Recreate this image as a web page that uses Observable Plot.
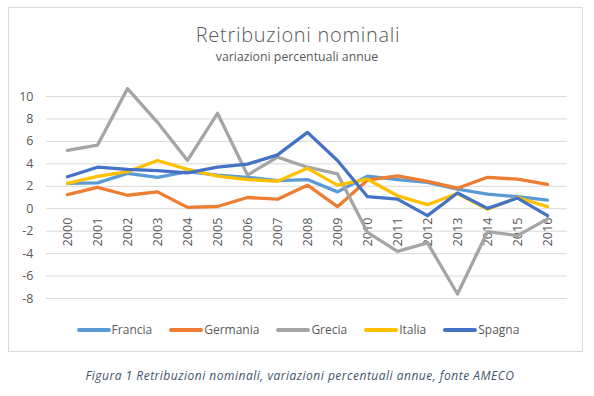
<!DOCTYPE html>
<html>
<head>
<meta charset="utf-8">
<script src="https://cdn.jsdelivr.net/npm/d3@7"></script>
<script src="https://cdn.jsdelivr.net/npm/@observablehq/plot@0.6"></script>
<style>
  body { margin: 0; background: #fff; }
  #wrap { position: relative; width: 594px; height: 396px; font-family: "Open Sans", sans-serif; color: #595959; overflow: hidden; }
  #frame { position: absolute; left: 8px; top: 7px; width: 575px; height: 345px; border: 1px solid #d9d9d9; box-sizing: border-box; }
  #title { position: absolute; left: 0; width: 596px; top: 23px; text-align: center; font-size: 20px; letter-spacing: 0.7px; font-weight: 300; color: #595959; line-height: 1.2; }
  #subtitle { position: absolute; left: 0; width: 594px; top: 50px; text-align: center; font-size: 12.3px; color: #595959; line-height: 1.2; }
  #chart { position: absolute; left: 0; top: 0; }
  #legend { position: absolute; left: 0; width: 596px; top: 322px; display: flex; justify-content: center; gap: 17px; font-size: 12px; color: #595959; line-height: 16px; }
  #legend .item { display: flex; align-items: center; }
  #legend .sw { width: 34px; height: 3.5px; margin-right: 1px; border-radius: 2px; }
  #caption { position: absolute; left: 0; width: 600px; top: 368px; text-align: center; font-size: 12px; letter-spacing: 0.5px; font-style: italic; color: #44546a; line-height: 1.36; }
</style>
</head>
<body>
<div id="wrap">
  <div id="frame"></div>
  <div id="chart"></div>
  <div id="title">Retribuzioni nominali</div>
  <div id="subtitle">variazioni percentuali annue</div>
  <div id="legend"></div>
  <div id="caption">Figura 1 Retribuzioni nominali, variazioni percentuali annue, fonte AMECO</div>
</div>
<script>
const years = ["2000","2001","2002","2003","2004","2005","2006","2007","2008","2009","2010","2011","2012","2013","2014","2015","2016"];
const francia  = [2.25, 2.3, 3.15, 2.8, 3.3, 3.0, 2.8, 2.5, 2.6, 1.5, 2.9, 2.6, 2.35, 1.75, 1.3, 1.07, 0.77];
const germania = [1.25, 1.9, 1.2, 1.5, 0.12, 0.2, 1.0, 0.85, 2.1, 0.18, 2.55, 2.93, 2.43, 1.83, 2.8, 2.63, 2.16];
const grecia   = [5.2, 5.66, 10.7, 7.7, 4.3, 8.5, 3.0, 4.6, 3.7, 3.1, -2.1, -3.8, -3.05, -7.6, -2.05, -2.4, -0.9];
const italia   = [2.25, 2.88, 3.3, 4.3, 3.5, 2.9, 2.6, 2.45, 3.6, 2.1, 2.63, 1.15, 0.36, 1.36, -0.05, 1.0, 0.18];
const spagna   = [2.85, 3.7, 3.5, 3.4, 3.2, 3.7, 3.97, 4.8, 6.8, 4.3, 1.07, 0.86, -0.62, 1.4, 0.03, 0.95, -0.62];
const countries = ["Francia", "Germania", "Grecia", "Italia", "Spagna"];
const colors = ["#5b9bd5", "#ed7d31", "#a5a5a5", "#ffc000", "#4472c4"];
const yTicks = [-8, -6, -4, -2, 0, 2, 4, 6, 8, 10];

const seriesValues = [francia, germania, grecia, italia, spagna];
const data = [];
countries.forEach((c, i) => {
  years.forEach((y, j) => data.push({country: c, year: y, value: seriesValues[i][j]}));
});

const chart = Plot.plot({
  width: 594,
  height: 396,
  marginLeft: 46,
  marginRight: 27,
  marginTop: 96,
  marginBottom: 98,
  style: {fontFamily: "'Open Sans', sans-serif", fontSize: "12.5px", color: "#595959", background: "transparent"},
  x: {type: "point", domain: years, padding: 0.5, axis: null},
  y: {domain: [-8, 10], axis: null},
  color: {domain: countries, range: colors},
  marks: [
    Plot.ruleY(yTicks, {stroke: "#d9d9d9", strokeWidth: 1}),
    Plot.text(yTicks, {y: d => d, text: d => String(d), frameAnchor: "left", textAnchor: "end", dx: -13, fill: "#595959", fontSize: 12.5}),
    Plot.text(years, {x: d => d, y: () => 0, text: d => d, rotate: -90, textAnchor: "end", dy: 9, fill: "#595959", fontSize: 12.5}),
    Plot.line(data, {x: "year", y: "value", z: "country", stroke: "country", strokeWidth: 3.3, strokeLinejoin: "round", strokeLinecap: "round"})
  ]
});
document.getElementById("chart").appendChild(chart);

const legend = document.getElementById("legend");
countries.forEach((c, i) => {
  const item = document.createElement("div");
  item.className = "item";
  const sw = document.createElement("span");
  sw.className = "sw";
  sw.style.background = colors[i];
  const t = document.createElement("span");
  t.textContent = c;
  item.appendChild(sw);
  item.appendChild(t);
  legend.appendChild(item);
});
</script>
</body>
</html>
